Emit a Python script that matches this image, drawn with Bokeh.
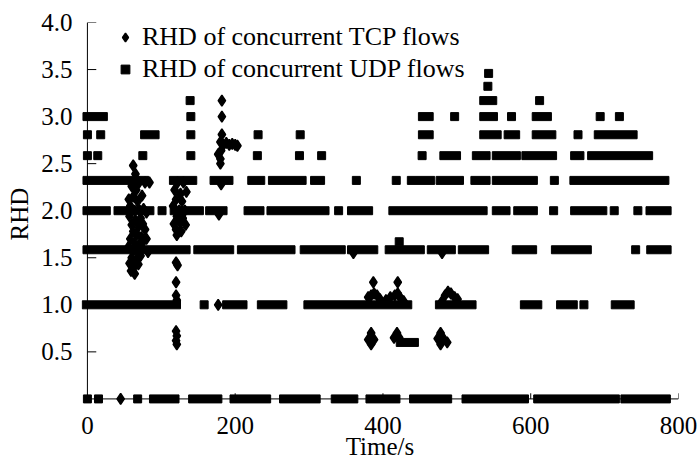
import numpy as np
from bokeh.plotting import figure
from bokeh.models import (FixedTicker, PrintfTickFormatter, ColumnDataSource,
                          Range1d, Legend, LegendItem)
from bokeh.embed import file_html
from bokeh.resources import INLINE

# ---------------- data (time in s, RHD value) ----------------
# UDP: runs of consecutive samples (start/end time) per RHD level
udp_run_level = [3.17,
                 3.0, 3.0, 3.0, 3.0,
                 2.807, 2.807, 2.807, 2.807, 2.807, 2.807,
                 2.585, 2.585, 2.585, 2.585, 2.585, 2.585,
                 2.322, 2.322, 2.322, 2.322, 2.322, 2.322, 2.322, 2.322, 2.322, 2.322, 2.322,
                 2.0, 2.0, 2.0, 2.0, 2.0, 2.0, 2.0, 2.0, 2.0, 2.0, 2.0, 2.0,
                 1.585, 1.585, 1.585, 1.585, 1.585, 1.585, 1.585, 1.585, 1.585, 1.585, 1.585,
                 1.0, 1.0]
udp_run_start = [531,
                 -6, 448, 531, 602,
                 72, 448, 531, 564, 602, 686,
                 477, 521, 548, 588, 654, 677,
                 -6, 111, 166, 217, 245, 302, 433, 472, 519, 548, 653,
                 -6, 36, 112, 160, 212, 243, 352, 408, 548, 577, 654, 756,
                 -6, 144, 203, 288, 352, 403, 460, 502, 575, 628, 757,
                 183, 635]
udp_run_end = [554,
               27, 468, 555, 628,
               97, 468, 560, 585, 634, 744,
               505, 545, 586, 635, 672, 765,
               83, 148, 197, 240, 296, 321, 470, 509, 545, 609, 787,
               31, 90, 157, 189, 239, 327, 386, 541, 572, 609, 703, 790,
               139, 198, 281, 349, 393, 456, 498, 543, 608, 682, 790,
               216, 663]

# UDP: isolated samples
udp_pt_t = [543, 542, 139, 612,
            140, 497, 574, 694, 720,
            0, 18, 140, 231, 288, 664,
            0, 14, 75, 140, 230, 287, 317, 453,
            364, 418, 632,
            101, 340, 631, 713, 745,
            422, 742, 158, 672,
            0, 15, 68]
udp_pt_y = [3.459, 3.322, 3.17, 3.17,
            3.0, 3.0, 3.0, 3.0, 3.0,
            2.807, 2.807, 2.807, 2.807, 2.807, 2.807,
            2.585, 2.585, 2.585, 2.585, 2.585, 2.585, 2.585, 2.585,
            2.322, 2.322, 2.322,
            2.0, 2.0, 2.0, 2.0, 2.0,
            1.67, 1.585, 1.0, 1.0,
            0, 0, 0]

# TCP: runs of consecutive samples
tcp_run_level = [1.0, 1.0, 1.0, 1.0, 1.0, 1.0,
                 0, 0, 0, 0, 0, 0, 0, 0, 0, 0,
                 0.6]
tcp_run_start = [-7, 230, 293, 471, 586, 709,
                 84, 137, 193, 260, 330, 377, 436, 507, 604, 722,
                 418]
tcp_run_end = [126, 270, 439, 526, 615, 740,
               124, 182, 248, 315, 366, 423, 493, 597, 720, 789,
               448]

# TCP: scattered samples
tcp_pt_t = [62, 65, 60, 66, 62, 68, 58, 64, 71, 76, 80, 57, 65, 72, 60, 69, 75,
            62, 67, 73, 78, 58, 64, 70, 76, 80, 56, 62, 68, 74, 82, 60, 66, 72,
            57, 63, 69, 59, 64, 70, 78, 84, 56, 74, 66,
            122, 130, 118, 126, 134, 120, 128, 116, 124, 132, 121, 129, 117, 125,
            133, 120, 127, 121, 120, 122, 120, 120, 121, 120, 121, 120, 121,
            182, 182, 182, 180, 184, 188, 192, 196, 200, 203, 181, 177, 180, 180,
            181, 178,
            387, 420, 380, 384, 388, 392, 396, 404, 410, 416, 420, 424, 428,
            480, 484, 488, 492, 497, 501,
            384, 380, 388, 384, 419, 415, 422, 478, 474, 482, 478, 487,
            360, 480, 45, 177]
tcp_pt_y = [2.48, 2.39, 2.26, 2.22, 2.15, 2.1, 2.05, 2.0, 2.0, 2.02, 1.98, 1.94, 1.9,
            1.92, 1.85, 1.83, 1.86, 1.78, 1.75, 1.72, 1.8, 1.7, 1.66, 1.64, 1.68,
            1.7, 1.62, 1.58, 1.55, 1.6, 1.56, 1.5, 1.47, 1.52, 1.44, 1.4, 1.43,
            1.36, 1.33, 2.3, 2.3, 2.3, 2.12, 2.16, 2.3,
            2.3, 2.3, 2.22, 2.18, 2.2, 2.12, 2.1, 2.05, 2.0, 2.0, 1.94, 1.92, 1.86,
            1.88, 1.85, 1.8, 1.78, 1.74, 1.45, 1.42, 1.24, 1.1, 1.05, 0.72, 0.67,
            0.62, 0.58,
            3.17, 3.0, 2.81, 2.73, 2.7, 2.72, 2.7, 2.71, 2.7, 2.69, 2.64, 2.6, 2.55,
            2.5, 2.28, 1.96,
            1.24, 1.24, 1.08, 1.1, 1.12, 1.1, 1.06, 1.05, 1.08, 1.1, 1.12, 1.07, 1.04,
            1.04, 1.1, 1.14, 1.12, 1.08, 1.06,
            0.7, 0.63, 0.63, 0.58, 0.7, 0.65, 0.65, 0.7, 0.64, 0.64, 0.58, 0.6,
            1.55, 1.55, 0, 1.0]

x_ticks = [0, 200, 400, 600, 800]
y_ticks = [0.5, 1.0, 1.5, 2.0, 2.5, 3.0, 3.5, 4.0]
tcp_label = "RHD of concurrent TCP flows"
udp_label = "RHD of concurrent UDP flows"

# ---------------- figure ----------------
FONT = "Liberation Serif"
p = figure(width=700, height=467, output_backend="svg", toolbar_location=None,
           x_range=Range1d(-8, 800), y_range=Range1d(-0.07, 4.0),
           min_border_left=81, min_border_right=22, min_border_top=22,
           min_border_bottom=62)
p.outline_line_color = None
p.grid.visible = False
p.background_fill_color = "white"
p.border_fill_color = "white"

src_udp_run = ColumnDataSource(dict(level=udp_run_level, start=udp_run_start, end=udp_run_end))
src_tcp_run = ColumnDataSource(dict(level=tcp_run_level, start=tcp_run_start, end=tcp_run_end))
src_udp_pt = ColumnDataSource(dict(t=udp_pt_t, y=udp_pt_y))
src_tcp_pt = ColumnDataSource(dict(t=tcp_pt_t, y=tcp_pt_y))

# axis lines through the origin and inward tick marks (drawn in data space)
x0, y0 = x_ticks[0], 0.0
p.segment(x0=[x0, x0], y0=[y0, y0], x1=[x0, x_ticks[-1]], y1=[y_ticks[-1], y0],
          line_color="black", line_width=1)
p.segment(x0=[x0] * len(y_ticks), y0=y_ticks, x1=[x0 + 12] * len(y_ticks), y1=y_ticks,
          line_color="black", line_width=1)
p.segment(x0=x_ticks[1:], y0=[y0] * 4, x1=x_ticks[1:], y1=[y0 + 0.06] * 4,
          line_color="black", line_width=1)

p.hbar(y="level", left="start", right="end", height=0.085, source=src_udp_run,
       fill_color="black", line_color="black", line_width=1)
p.hbar(y="level", left="start", right="end", height=0.085, source=src_tcp_run,
       fill_color="black", line_color="black", line_width=1)
r_udp = p.scatter(x="t", y="y", source=src_udp_pt, marker="square", size=8,
                  fill_color="black", line_color="black", line_width=1)
r_tcp = p.scatter(x="t", y="y", source=src_tcp_pt, marker="diamond", size=11,
                  fill_color="black", line_color="black", line_width=1.5)

# axes: labels only (lines/ticks drawn above at the origin)
for ax in (p.xaxis[0], p.yaxis[0]):
    ax.axis_line_color = None
    ax.major_tick_line_color = None
    ax.minor_tick_line_color = None
    ax.major_label_text_font = FONT
    ax.major_label_text_font_size = "25px"
    ax.major_label_text_color = "black"
    ax.axis_label_text_font = FONT
    ax.axis_label_text_font_size = "25px"
    ax.axis_label_text_font_style = "normal"
    ax.axis_label_text_color = "black"

p.xaxis.ticker = FixedTicker(ticks=x_ticks)
p.xaxis.major_label_standoff = 5
p.xaxis.axis_label = "Time/s"
p.xaxis.axis_label_standoff = -4

p.yaxis.ticker = FixedTicker(ticks=y_ticks)
p.yaxis.formatter = PrintfTickFormatter(format="%.1f")
p.yaxis.major_label_standoff = 3
p.yaxis.axis_label = "RHD"
p.yaxis.axis_label_standoff = 5

legend = Legend(items=[LegendItem(label=tcp_label, renderers=[r_tcp]),
                       LegendItem(label=udp_label, renderers=[r_udp])],
                location=(33, 321), orientation="vertical",
                glyph_width=22, glyph_height=28, label_height=28,
                label_standoff=6, spacing=2, padding=0, margin=0,
                label_text_font=FONT, label_text_font_size="26px",
                label_text_color="black",
                background_fill_alpha=0, border_line_color=None)
p.add_layout(legend)

open("out.html", "w").write(file_html(p, INLINE))
